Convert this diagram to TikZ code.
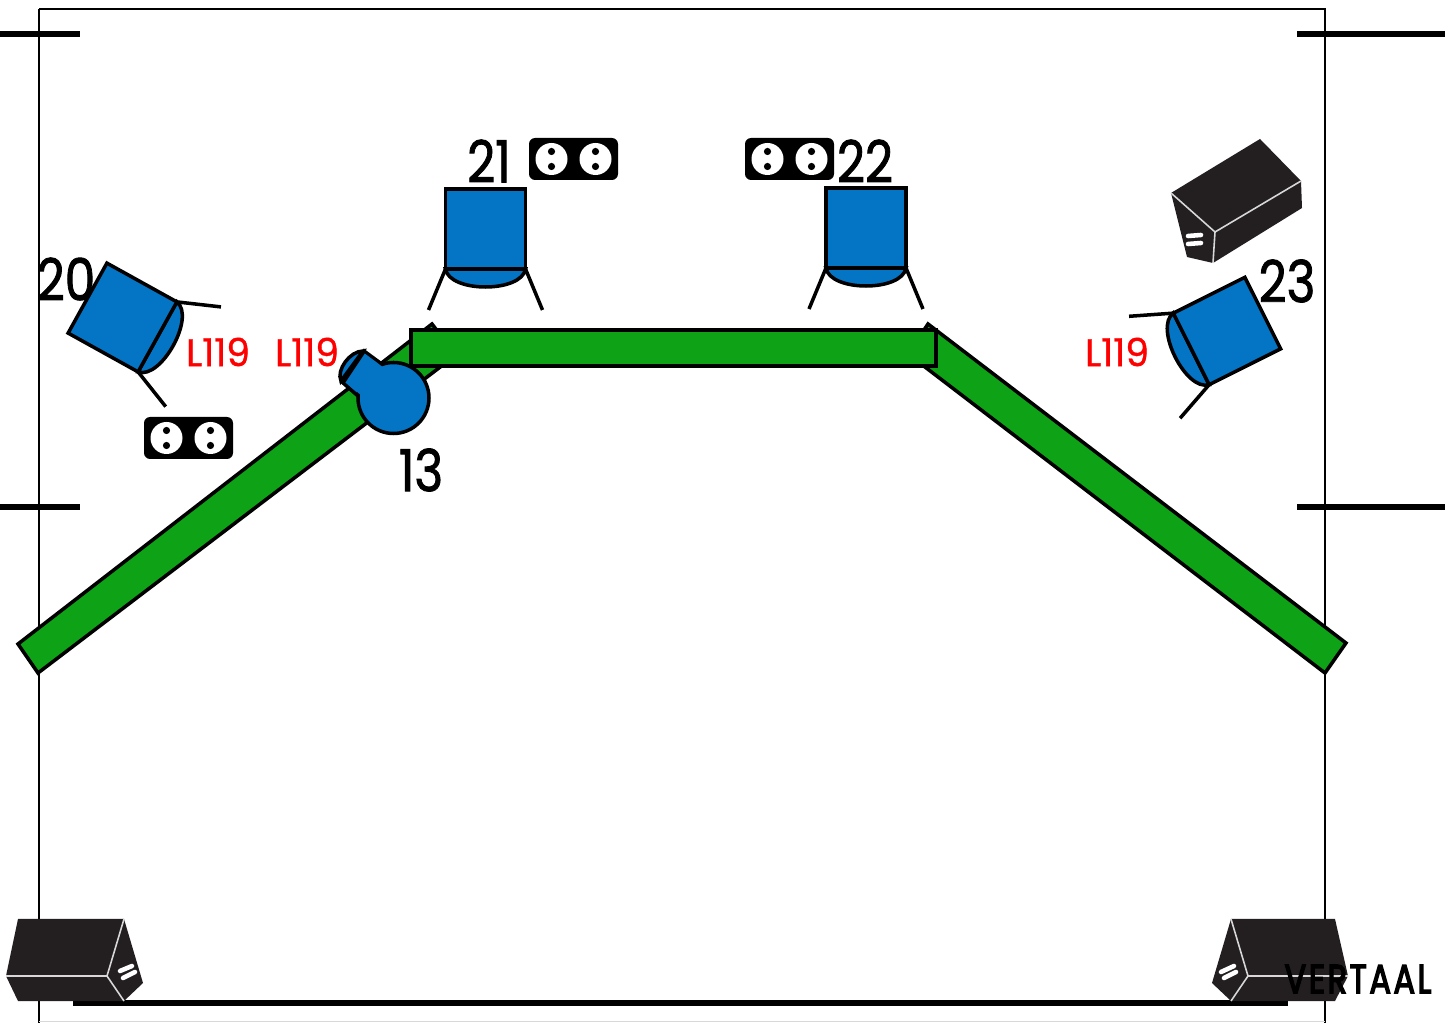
\documentclass[tikz,border=0pt]{standalone}
\usepackage{fontspec}
\setmainfont{Poppins}
\newfontfamily\labelfont[FakeBold=1.6]{Poppins}
\newfontfamily\gelfont[FakeBold=1]{Poppins}
\newfontfamily\brandfont[FakeBold=4,LetterSpace=8]{Poppins}
\definecolor{lampblue}{HTML}{0474C4}
\definecolor{trussgreen}{HTML}{0EA216}
\definecolor{boxblack}{HTML}{231F20}
\definecolor{boxline}{HTML}{D8D8D8}
\tikzset{
   lamp/.pic={
      \draw[fill=lampblue, line width=2pt] (-40,40) .. controls (-36,64) and (36,64) .. (40,40) -- cycle;
      \draw[fill=lampblue, line width=2pt] (-40,-40) rectangle (40,40);
      \draw[line width=2pt] (-40,40) -- (-57,81);
      \draw[line width=2pt] (40,40) -- (57,81);
   },
   outlet/.pic={
      \fill[black, rounded corners=3.5pt] (-44.5,-21) rectangle (44.5,21);
      \foreach \px in {-22,22} {
         \fill[white] (\px,0) circle (16);
         \fill[black] (\px,-7.5) circle (3.6);
         \fill[black] (\px,7.5) circle (3.6);
      }
   }
}

\begin{document}
\begin{tikzpicture}[x=0.02cm,y=-0.02cm]
   \tikzstyle{every node}=[inner sep=0pt]
   \tikzstyle{truss}=[draw=black, fill=trussgreen, line width=2pt, line join=miter]
   \tikzstyle{number}=[font=\labelfont\fontsize{33}{33}\selectfont, xscale=0.84]
   \tikzstyle{gel}=[text=red, font=\gelfont\fontsize{22}{22}\selectfont, xscale=0.97]
   \tikzstyle{box}=[fill=boxblack]
   \tikzstyle{edge}=[draw=boxline, line width=0.9pt]
   \tikzstyle{slot}=[white, line width=2.6pt, line cap=round]
   \useasboundingbox (0,0) rectangle (1445,1023);

% frame and marks
   \draw[line width=1.5pt] (39,9) -- (1325,9) -- (1325,1023);
   \draw[line width=1.5pt] (39,9) -- (39,1023);
   \draw[boxline, line width=0.8pt] (39,1021.5) -- (1325,1021.5);
   \foreach \ypos in {34,507} {
      \draw[line width=3pt] (0,\ypos) -- (80,\ypos);
      \draw[line width=3pt] (1297,\ypos) -- (1445,\ypos);
   }
   \draw[line width=3pt] (73,1003) -- (1288,1003);

% truss
   \draw[truss] (18,644) -- (432,324) -- (456,355) -- (38,673) -- cycle;
   \draw[truss] (928,324) -- (1346,643) -- (1325,673) -- (908,354) -- cycle;
   \draw[truss] (411,330) rectangle (936,366);

% lamps
   \pic[rotate=61] at (122.5,317.5) {lamp};
   \pic at (485.5,229) {lamp};
   \pic at (866,228) {lamp};
   \pic[rotate=-63.4] at (1227,331) {lamp};

% follow spot 13
   \draw[fill=lampblue, line width=2pt] (341,381) .. controls (336,370) and (350,351) .. (363,351) -- cycle;
   \draw[fill=lampblue, line width=2pt] (364,351) -- (383,365) -- (358,396) -- (342,382) -- cycle;
   \draw[fill=lampblue, line width=2pt] (393.5,398) circle (35.5);
   \fill[lampblue] (344,381) -- (364,353) -- (384,368) -- (362,396) -- cycle;
   \draw[line width=1.6pt] (344,382) -- (364,352);

% outlets
   \pic at (188.5,438) {outlet};
   \pic at (573.5,159) {outlet};
   \pic at (789.5,159) {outlet};

% speakers
   \fill[box] (1260,139) -- (1301,181) -- (1302,208) -- (1213,263) -- (1187,257) -- (1171,193) -- cycle;
   \draw[edge] (1171,193) -- (1215,232) -- (1301,181);
   \draw[edge] (1215,232) -- (1213,263);
   \draw[slot] (1188,236) -- (1201,235);
   \draw[slot] (1188,244) -- (1201,243);

   \fill[box] (18,919) -- (124,919) -- (143,983) -- (124,1001) -- (18,1001) -- (6,976) -- cycle;
   \draw[edge] (6,976) -- (107,976) -- (124,919);
   \draw[edge] (107,976) -- (124,1001);
   \draw[slot] (120,971) -- (132,966);
   \draw[slot] (123,978) -- (135,972);

   \fill[box] (1231,919) -- (1335,919) -- (1348,976) -- (1335,1001) -- (1231,1001) -- (1212,983) -- cycle;
   \draw[edge] (1348,976) -- (1248,976) -- (1231,919);
   \draw[edge] (1248,976) -- (1231,1001);
   \draw[slot] (1221,972) -- (1234,966);
   \draw[slot] (1224,978) -- (1236,972);

% labels
   \node[number] (num20) at (66,279) {20};
   \node[number] (num21) at (489,161) {21};
   \node[number] (num22) at (865,161) {22};
   \node[number] (num23) at (1287,281) {23};
   \node[number] (num13) at (421,470) {13};
   \node[gel] (gel20) at (218,352) {L119};
   \node[gel] (gel13) at (307,352) {L119};
   \node[gel] (gel23) at (1117,352) {L119};
   \node[font=\brandfont\fontsize{23}{23}\selectfont, xscale=0.79] (brand) at (1358,979) {VERTAAL};

\end{tikzpicture}
\end{document}
